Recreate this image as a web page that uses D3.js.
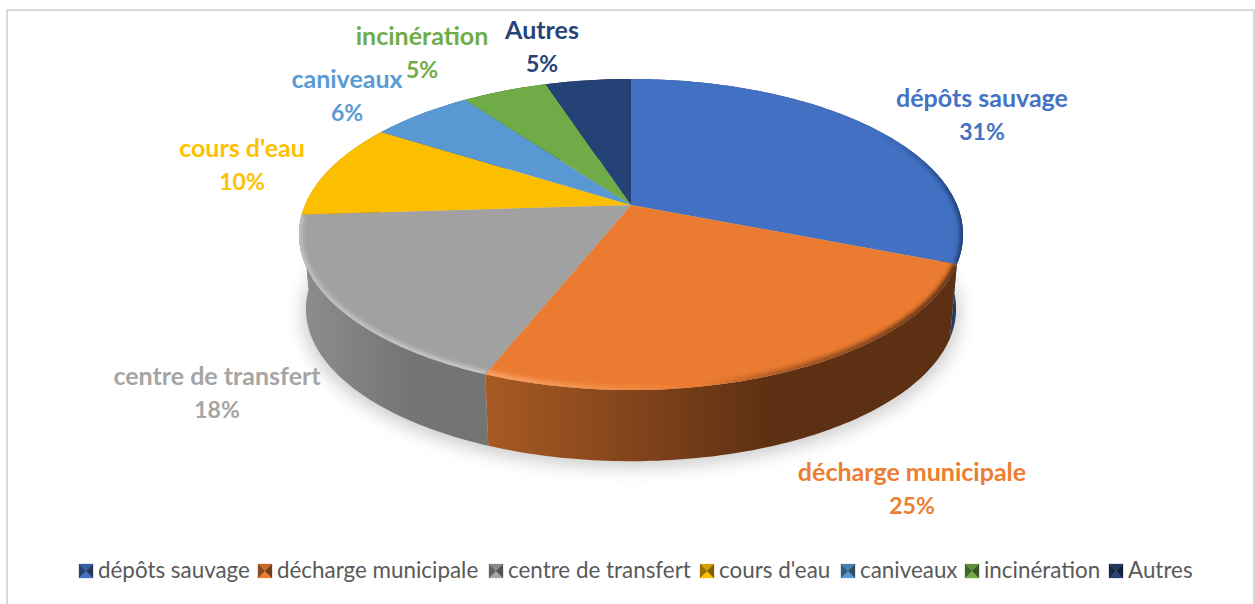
<!DOCTYPE html>
<html>
<head>
<meta charset="utf-8">
<script src="https://cdn.jsdelivr.net/npm/d3@7"></script>
<style>
  html, body { margin: 0; padding: 0; background: #fff; }
  text { font-family: Lato, "Open Sans", sans-serif; }
</style>
</head>
<body>
<div id="chart"></div>
<script>
const categories = ["dépôts sauvage", "décharge municipale", "centre de transfert", "cours d'eau", "caniveaux", "incinération", "Autres"];
const values = [31, 25, 18, 10, 6, 5, 5];
const colors = ["#4472c4", "#ed7d31", "#a5a5a5", "#ffc000", "#5b9bd5", "#70ad47", "#264478"];
const faceColors = ["#4270c2", "#eb7b30", "#a1a1a1", "#fcbf00", "#5a98d3", "#6fab46", "#244276"];
const sideLight = ["#2f5597", "#a95a24", "#8e8e8e", "#b88a00", "#41719c", "#507e32", "#1a2f53"];
const sideDark = ["#1e3a6b", "#5e3013", "#747474", "#8a6700", "#2e5170", "#3b5c25", "#12203a"];
const labelPos = [[982, 99], [912, 473], [217, 377], [242, 149], [347, 80], [422, 37], [542, 31]];
const legendX = [79, 258, 489, 700, 841, 965, 1109];

const width = 1255, height = 604;
const svg = d3.select("#chart").append("svg")
  .attr("width", width)
  .attr("height", height)
  .style("display", "block");
const defs = svg.append("defs");

// frame, bottom edge runs off the page
svg.append("rect")
  .attr("x", 7).attr("y", 10)
  .attr("width", 1247).attr("height", 640)
  .attr("fill", "#fff").attr("stroke", "#d9d9d9").attr("stroke-width", 2);

// tilted disc: perspective projection of the unit circle
const cx = 631, apexY = 205, radiusX = 326, k = 0.1897, yA = -111;
function project(angle, r = 1) {
  const u = Math.sin(angle) * r, v = Math.cos(angle) * r;
  const w = 1 + k * v;
  return [cx + radiusX * u / w, (apexY + yA * v) / w];
}
// bottom face converges on a far point under the pie
const vanishY = 3780, drop = 0.979;
function lower(p) {
  return [cx + (p[0] - cx) * drop, vanishY + (p[1] - vanishY) * drop];
}
const line = d3.line();
function arcPoints(a0, a1) {
  const n = Math.max(2, Math.ceil((a1 - a0) * 60));
  return d3.range(n + 1).map(i => project(a0 + (a1 - a0) * i / n));
}

const blur = (id, sd) => defs.append("filter")
  .attr("id", id)
  .attr("x", "-20%").attr("y", "-20%").attr("width", "140%").attr("height", "140%")
  .append("feGaussianBlur").attr("stdDeviation", sd);
blur("shadow", 9);
blur("soft", 2);

function hGrad(id, x1, x2, stops) {
  const g = defs.append("linearGradient").attr("id", id)
    .attr("gradientUnits", "userSpaceOnUse")
    .attr("x1", x1).attr("x2", x2).attr("y1", 0).attr("y2", 0);
  stops.forEach(s => g.append("stop")
    .attr("offset", s[0]).attr("stop-color", s[1]).attr("stop-opacity", s[2] === undefined ? 1 : s[2]));
}

const slices = d3.pie().sort(null)(values);

// ground shadow
const outline = arcPoints(0, 2 * Math.PI).map(lower);
svg.append("path")
  .attr("d", line(outline.map(p => [cx + (p[0] - cx) * 1.01, p[1] + 6])) + "Z")
  .attr("fill", "#000").attr("opacity", 0.2)
  .attr("filter", "url(#shadow)");

// side walls, back slices first so they stay hidden behind the front ones
const pieGroup = svg.append("g");
[6, 5, 4, 3, 0, 2, 1].forEach(i => {
  const s = slices[i];
  const top = arcPoints(s.startAngle, s.endAngle);
  const x0 = d3.min(top, p => p[0]), x1 = d3.max(top, p => p[0]);
  hGrad("side" + i, x0, x1, [[0, sideLight[i]], [0.6, sideDark[i]], [1, sideDark[i]]]);
  pieGroup.append("path")
    .attr("d", line(top.concat(top.slice().reverse().map(lower))) + "Z")
    .attr("fill", "url(#side" + i + ")");
});

// bevel colours along the rim, only where it catches light or falls into shade
hGrad("rim0", 880, 963, [[0, "#1e3a6b", 0], [1, "#1e3a6b", 1]]);
hGrad("rim1", 487, 955, [[0, "#f9a468"], [0.45, "#ed7d31", 1], [0.62, "#a85a24"], [1, "#5e3013"]]);
hGrad("rim2", 300, 487, [[0, "#c4c4c4"], [1, "#cfcfcf"]]);
const rimWidth = { 0: 6, 1: 8, 2: 6 };

// top face
slices.forEach((s, i) => {
  const pts = [project(0, 0)].concat(arcPoints(s.startAngle, s.endAngle));
  const d = line(pts) + "Z";
  defs.append("clipPath").attr("id", "clip" + i).append("path").attr("d", d);
  pieGroup.append("path")
    .attr("d", d)
    .attr("fill", faceColors[i]);
  if (rimWidth[i]) {
    pieGroup.append("g").attr("clip-path", "url(#clip" + i + ")")
      .append("path")
      .attr("d", line(arcPoints(s.startAngle, s.endAngle)))
      .attr("fill", "none")
      .attr("stroke", "url(#rim" + i + ")")
      .attr("stroke-width", rimWidth[i])
      .attr("filter", "url(#soft)");
  }
});

// data labels
const labels = svg.append("g");
categories.forEach((c, i) => {
  const t = labels.append("text")
    .attr("x", labelPos[i][0]).attr("y", labelPos[i][1] + 8)
    .attr("text-anchor", "middle")
    .attr("font-size", 25)
    .attr("font-weight", 700)
    .attr("fill", colors[i]);
  t.append("tspan").text(c);
  t.append("tspan")
    .attr("x", labelPos[i][0]).attr("dy", 33)
    .attr("font-size", 23)
    .text(values[i] + "%");
});

// legend
const legend = svg.append("g").attr("transform", "translate(0,571)");
categories.forEach((c, i) => {
  const g = legend.append("g").attr("transform", `translate(${legendX[i]},0)`);
  const base = d3.color(colors[i]);
  const s = 14;
  const faces = [
    { p: [[0, -7], [s, -7], [s / 2, 0]], f: base.darker(0.5) },
    { p: [[0, 7], [s, 7], [s / 2, 0]], f: base },
    { p: [[0, -7], [0, 7], [s / 2, 0]], f: base.darker(1.5) },
    { p: [[s, -7], [s, 7], [s / 2, 0]], f: base.darker(2) }
  ];
  faces.forEach(a => g.append("path")
    .attr("d", line(a.p) + "Z")
    .attr("fill", a.f)
    .attr("stroke", a.f).attr("stroke-width", 0.3));
  g.append("text")
    .attr("x", s + 5).attr("y", 7)
    .attr("font-size", 22.4)
    .attr("fill", "#595959")
    .text(c);
});
</script>
</body>
</html>
